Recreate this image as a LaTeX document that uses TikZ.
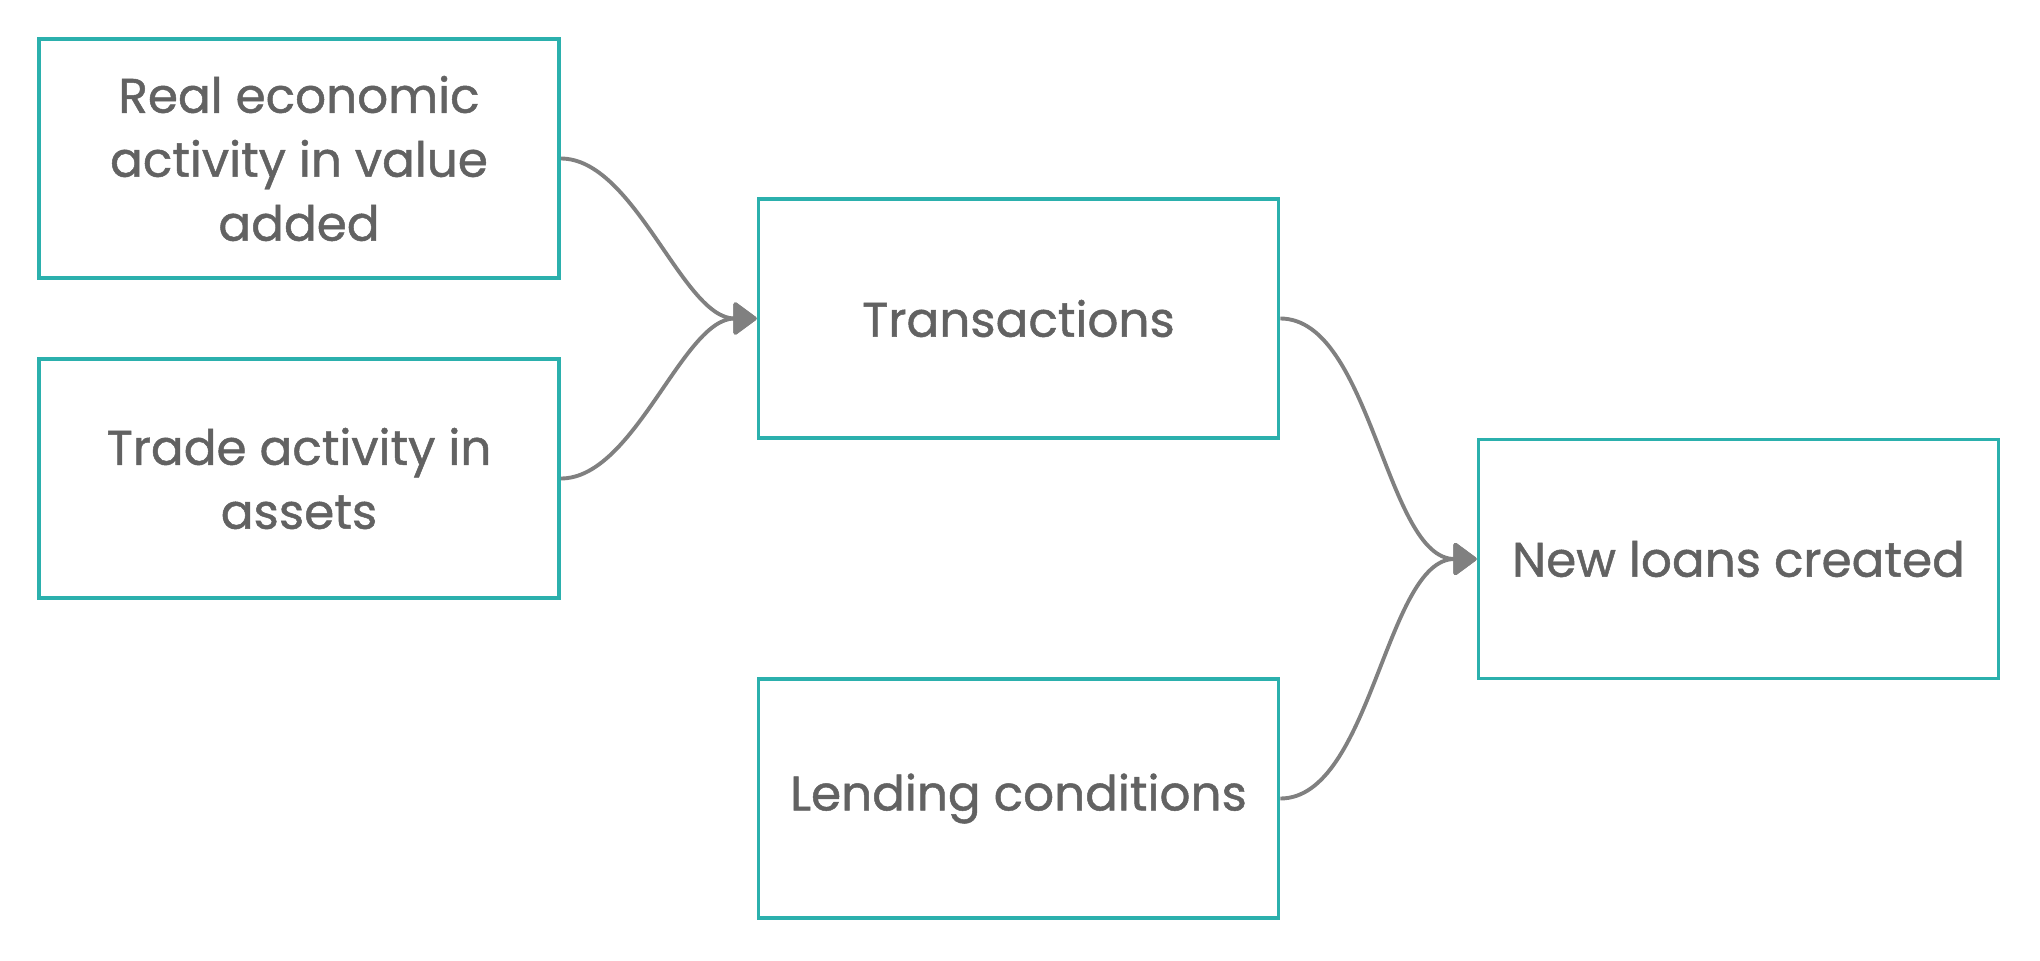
\documentclass[tikz,border=0pt]{standalone}
\usepackage{fontspec}
\setmainfont{Poppins}
\newfontfamily\boxfont{Poppins}[FakeBold=1]
\usetikzlibrary{arrows.meta}

\definecolor{boxteal}{HTML}{2BB0AD}
\definecolor{textgray}{HTML}{626262}
\definecolor{flowgray}{HTML}{808080}

\begin{document}
\begin{tikzpicture}[
    factor/.style={draw=boxteal, line width=1.05pt, fill=white, minimum width=5.2cm,
        minimum height=2.39cm, align=center, text=textgray,
        font=\boxfont\fontsize{13.8}{18.2}\selectfont},
    flow/.style={draw=flowgray, line width=1.1pt, looseness=0.75,
        -{Triangle[length=7pt,width=10pt,round]}}
]
\useasboundingbox (0,0) rectangle (20.4,9.6);

% left column
\node[factor] (real) at (2.99,8.015) {Real economic\\activity in value\\added};
\node[factor] (trade) at (2.99,4.815) {Trade activity in\\assets};

% middle column
\node[factor] (trans) at (10.185,6.415) {Transactions};
\node[factor] (lend) at (10.185,1.615) {Lending conditions};

% result
\node[factor] (loans) at (17.385,4.01) {New loans created};

% links
\draw[flow] (real.east) to[out=0,in=180] (trans.west);
\draw[flow] (trade.east) to[out=0,in=180] (trans.west);
\draw[flow] (trans.east) to[out=0,in=180] (loans.west);
\draw[flow] (lend.east) to[out=0,in=180] (loans.west);

\end{tikzpicture}
\end{document}
